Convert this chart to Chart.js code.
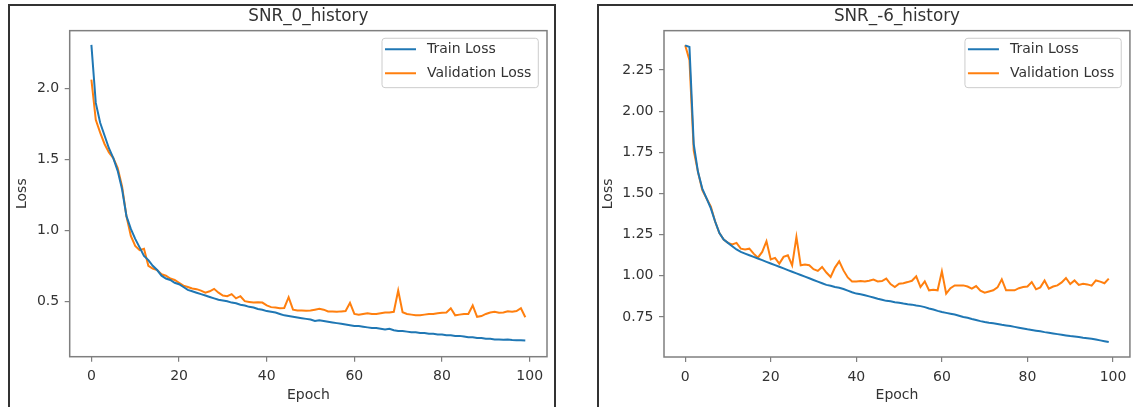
<!DOCTYPE html>
<html>
<head>
<meta charset="utf-8">
<title>SNR history</title>
<script src="https://cdn.jsdelivr.net/npm/chart.js@4.4.1/dist/chart.umd.min.js"></script>
<style>
  body { margin: 0; background: #fff; width: 1133px; height: 407px; overflow: hidden; position: relative; }
  .frame { position: absolute; top: 4px; height: 420px; border: 2px solid #333; border-bottom: none; box-sizing: border-box; }
  #frame-left { left: 8px; width: 548px; }
  #frame-right { left: 597px; width: 560px; }
  canvas { position: absolute; }
  #left-chart { left: 10px; top: 6px; }
  #right-chart { left: 599px; top: 6px; }
</style>
</head>
<body>
<div class="frame" id="frame-left"></div>
<div class="frame" id="frame-right"></div>
<canvas id="left-chart" width="543" height="401"></canvas>
<canvas id="right-chart" width="534" height="401"></canvas>
<script>
// Epochs (x values)
const epochs = [
  0, 1, 2, 3, 4, 5, 6, 7, 8, 9, 10, 11, 12, 13, 14, 15, 16, 17, 18, 19,
  20, 21, 22, 23, 24, 25, 26, 27, 28, 29, 30, 31, 32, 33, 34, 35, 36, 37, 38, 39,
  40, 41, 42, 43, 44, 45, 46, 47, 48, 49, 50, 51, 52, 53, 54, 55, 56, 57, 58, 59,
  60, 61, 62, 63, 64, 65, 66, 67, 68, 69, 70, 71, 72, 73, 74, 75, 76, 77, 78, 79,
  80, 81, 82, 83, 84, 85, 86, 87, 88, 89, 90, 91, 92, 93, 94, 95, 96, 97, 98, 99
];

// SNR_0 history
const snr0Train = [
  2.31, 1.90, 1.76, 1.67, 1.58, 1.51, 1.42, 1.29, 1.10, 1.01,
  0.94, 0.88, 0.82, 0.79, 0.75, 0.72, 0.68, 0.66, 0.65, 0.63,
  0.62, 0.60, 0.58, 0.57, 0.56, 0.55, 0.54, 0.53, 0.52, 0.51,
  0.505, 0.50, 0.49, 0.485, 0.475, 0.47, 0.46, 0.455, 0.445, 0.44,
  0.43, 0.425, 0.42, 0.41, 0.40, 0.395, 0.39, 0.385, 0.38, 0.375,
  0.37, 0.36, 0.365, 0.36, 0.355, 0.35, 0.345, 0.34, 0.335, 0.33,
  0.325, 0.325, 0.32, 0.315, 0.31, 0.31, 0.305, 0.30, 0.305, 0.295,
  0.29, 0.29, 0.285, 0.28, 0.28, 0.275, 0.275, 0.27, 0.27, 0.265,
  0.265, 0.26, 0.26, 0.255, 0.255, 0.25, 0.245, 0.245, 0.24, 0.24,
  0.235, 0.235, 0.23, 0.23, 0.228, 0.23, 0.226, 0.225, 0.224, 0.222
];
const snr0Val = [
  2.065, 1.78, 1.69, 1.61, 1.55, 1.51, 1.44, 1.31, 1.10, 0.96,
  0.89, 0.86, 0.87, 0.75, 0.73, 0.72, 0.69, 0.68, 0.66, 0.65,
  0.63, 0.61, 0.60, 0.59, 0.585, 0.575, 0.56, 0.57, 0.587, 0.56,
  0.54, 0.535, 0.55, 0.52, 0.535, 0.50, 0.495, 0.49, 0.493, 0.49,
  0.47, 0.458, 0.455, 0.45, 0.452, 0.528, 0.44, 0.435, 0.434, 0.433,
  0.434, 0.44, 0.446, 0.44, 0.427, 0.427, 0.425, 0.428, 0.43, 0.488,
  0.41, 0.404, 0.41, 0.415, 0.41, 0.41, 0.415, 0.42, 0.42, 0.425,
  0.575, 0.422, 0.41, 0.405, 0.40, 0.40, 0.405, 0.41, 0.41, 0.415,
  0.418, 0.42, 0.45, 0.40, 0.405, 0.41, 0.41, 0.47, 0.39, 0.395,
  0.41, 0.42, 0.425, 0.418, 0.42, 0.428, 0.425, 0.43, 0.45, 0.387
];

// SNR_-6 history
const snrM6Train = [
  2.40, 2.39, 1.80, 1.63, 1.53, 1.47, 1.41, 1.33, 1.26, 1.22,
  1.20, 1.18, 1.16, 1.145, 1.135, 1.125, 1.115, 1.105, 1.095, 1.085,
  1.075, 1.065, 1.055, 1.045, 1.035, 1.025, 1.015, 1.005, 0.995, 0.985,
  0.975, 0.965, 0.955, 0.945, 0.94, 0.932, 0.928, 0.92, 0.91, 0.90,
  0.892, 0.888, 0.882, 0.875, 0.868, 0.861, 0.855, 0.848, 0.845, 0.84,
  0.837, 0.832, 0.828, 0.825, 0.82, 0.816, 0.81, 0.802, 0.795, 0.787,
  0.78, 0.775, 0.77, 0.765, 0.758, 0.75, 0.745, 0.738, 0.732, 0.725,
  0.719, 0.715, 0.712, 0.708, 0.703, 0.699, 0.695, 0.69, 0.685, 0.68,
  0.675, 0.671, 0.667, 0.663, 0.658, 0.654, 0.65, 0.646, 0.642, 0.638,
  0.634, 0.631, 0.628, 0.624, 0.621, 0.618, 0.613, 0.608, 0.603, 0.598
];
const snrM6Val = [
  2.40, 2.31, 1.76, 1.63, 1.52, 1.47, 1.42, 1.33, 1.26, 1.22,
  1.20, 1.19, 1.20, 1.165, 1.16, 1.165, 1.135, 1.11, 1.145, 1.21,
  1.10, 1.109, 1.074, 1.115, 1.125, 1.064, 1.236, 1.064, 1.068, 1.064,
  1.04, 1.03, 1.054, 1.02, 0.993, 1.05, 1.088, 1.033, 0.99, 0.966,
  0.966, 0.968, 0.966, 0.97, 0.977, 0.966, 0.968, 0.983, 0.95, 0.932,
  0.952, 0.955, 0.962, 0.97, 0.997, 0.932, 0.966, 0.912, 0.915, 0.912,
  1.027, 0.892, 0.925, 0.942, 0.942, 0.942, 0.935, 0.922, 0.938, 0.91,
  0.898, 0.905, 0.912, 0.93, 0.979, 0.912, 0.912, 0.912, 0.925, 0.932,
  0.935, 0.962, 0.918, 0.93, 0.972, 0.922, 0.935, 0.942, 0.96, 0.987,
  0.95, 0.972, 0.945, 0.952, 0.948, 0.94, 0.972, 0.965, 0.955, 0.983
];

// Tick labels
const xTickLabels = ['0', '20', '40', '60', '80', '100'];
const snr0YTickLabels = ['0.5', '1.0', '1.5', '2.0'];
const snrM6YTickLabels = ['0.75', '1.00', '1.25', '1.50', '1.75', '2.00', '2.25'];

const seriesNames = ['Train Loss', 'Validation Loss'];
const seriesColors = ['#1f77b4', '#ff7f0e'];

const FONT = 'DejaVu Sans';
const TEXT = '#333333';
const SPINE = '#7f7f7f';

// box round the plot area, like matplotlib spines
const spinesPlugin = {
    id: 'spines',
    afterDatasetsDraw(chart) {
        const { ctx, chartArea: a } = chart;
        ctx.save();
        ctx.strokeStyle = SPINE;
        ctx.lineWidth = 1.5;
        ctx.strokeRect(a.left, a.top, a.right - a.left, a.bottom - a.top);
        ctx.restore();
    }
};

// legend inside the plot, upper right
const insetLegend = {
    id: 'insetLegend',
    afterDraw(chart) {
        const { ctx, chartArea: a } = chart;
        const sets = chart.data.datasets;
        ctx.save();
        ctx.font = `14px "${FONT}"`;
        const textW = Math.max(...sets.map(d => ctx.measureText(d.label).width));
        const w = 3 + 31 + 11 + textW + 7;
        const h = 49.4;
        const x = a.right - 8.7 - w;
        const y = a.top + 7.6;
        ctx.fillStyle = 'rgba(255,255,255,0.8)';
        ctx.strokeStyle = '#cccccc';
        ctx.lineWidth = 1;
        ctx.beginPath();
        ctx.roundRect(x, y, w, h, 3);
        ctx.fill();
        ctx.stroke();
        sets.forEach((d, i) => {
            const cy = y + 11 + i * 24;
            ctx.strokeStyle = d.borderColor;
            ctx.lineWidth = 2;
            ctx.beginPath();
            ctx.moveTo(x + 3, cy);
            ctx.lineTo(x + 34, cy);
            ctx.stroke();
            ctx.fillStyle = TEXT;
            ctx.textBaseline = 'middle';
            ctx.textAlign = 'left';
            ctx.fillText(d.label, x + 45, cy);
        });
        ctx.restore();
    }
};

function makeChart(canvasId, opts) {
    const datasets = [opts.train, opts.val].map((values, i) => ({
        label: seriesNames[i],
        data: values,
        borderColor: seriesColors[i],
        backgroundColor: seriesColors[i],
        borderWidth: 2,
        pointRadius: 0,
        tension: 0,
        fill: false
    }));

    return new Chart(document.getElementById(canvasId), {
        type: 'line',
        data: { labels: epochs, datasets },
        options: {
            responsive: false,
            animation: false,
            devicePixelRatio: 1,
            layout: { padding: { left: 0, top: 0, right: opts.padRight, bottom: 0 } },
            plugins: {
                legend: { display: false },
                tooltip: { enabled: false },
                title: {
                    display: true,
                    text: opts.title,
                    fullSize: false,
                    color: TEXT,
                    font: { family: FONT, size: 16.8, weight: 'normal' },
                    padding: { top: 0.8, bottom: 3.7 }
                }
            },
            scales: {
                x: {
                    type: 'linear',
                    min: -4.95,
                    max: 103.95,
                    afterBuildTicks: s => { s.ticks = xTickLabels.map(t => ({ value: Number(t) })); },
                    afterFit: s => { s.height = opts.xAxisH; },
                    ticks: {
                        color: TEXT,
                        font: { family: FONT, size: 14 },
                        padding: 6.5,
                        maxRotation: 0,
                        callback: (v, i) => xTickLabels[i]
                    },
                    grid: { drawOnChartArea: false, drawTicks: true, tickLength: 5, color: SPINE, lineWidth: 1.2 },
                    border: { display: false },
                    title: {
                        display: true,
                        text: 'Epoch',
                        color: TEXT,
                        font: { family: FONT, size: 14 },
                        padding: { top: 0, bottom: 3.4 }
                    }
                },
                y: {
                    type: 'linear',
                    min: opts.yMin,
                    max: opts.yMax,
                    afterBuildTicks: s => { s.ticks = opts.yTicks.map(t => ({ value: Number(t) })); },
                    afterFit: s => { s.width = opts.yAxisW; },
                    ticks: {
                        color: TEXT,
                        font: { family: FONT, size: 14 },
                        padding: 5.5,
                        callback: (v, i) => opts.yTicks[i]
                    },
                    grid: { drawOnChartArea: false, drawTicks: true, tickLength: 5, color: SPINE, lineWidth: 1.2 },
                    border: { display: false },
                    title: {
                        display: true,
                        text: 'Loss',
                        color: TEXT,
                        font: { family: FONT, size: 14 },
                        padding: { top: opts.yTitlePad, bottom: 0 }
                    }
                }
            }
        },
        plugins: [spinesPlugin, insetLegend]
    });
}

document.addEventListener('DOMContentLoaded', () => {
    makeChart('left-chart', {
        title: 'SNR_0_history',
        train: snr0Train,
        val: snr0Val,
        yTicks: snr0YTickLabels,
        yMin: 0.108,
        yMax: 2.41,
        yAxisW: 59.7,
        xAxisH: 50.3,
        padRight: 6,
        yTitlePad: 3.9
    });
    makeChart('right-chart', {
        title: 'SNR_-6_history',
        train: snrM6Train,
        val: snrM6Val,
        yTicks: snrM6YTickLabels,
        yMin: 0.507,
        yMax: 2.489,
        yAxisW: 65,
        xAxisH: 50,
        padRight: 1,
        yTitlePad: 0.5
    });
});
</script>
</body>
</html>
